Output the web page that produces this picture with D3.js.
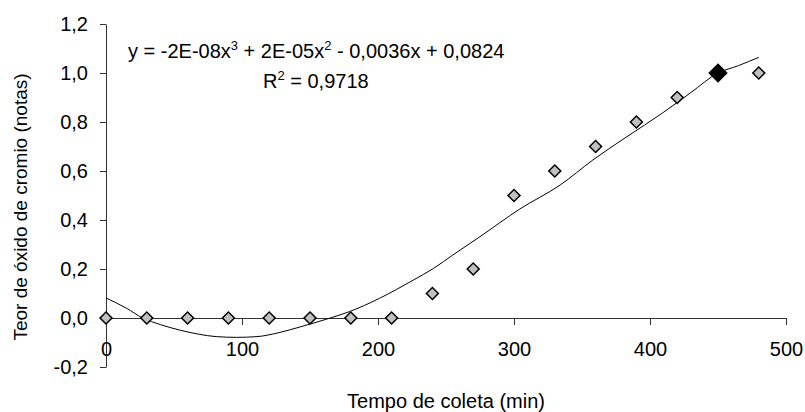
<!DOCTYPE html>
<html>
<head>
<meta charset="utf-8">
<script src="https://cdn.jsdelivr.net/npm/d3@7"></script>
<style>
  body { margin: 0; background: #fff; }
  text { font-family: "Liberation Sans", Arial, sans-serif; fill: #000; }
</style>
</head>
<body>
<div id="chart"></div>
<script>
// observed points
const tempo = [0, 30, 60, 90, 120, 150, 180, 210, 240, 270, 300, 330, 360, 390, 420, 450, 480];
const teor = [0, 0, 0, 0, 0, 0, 0, 0, 0.1, 0.2, 0.5, 0.6, 0.7, 0.8, 0.9, 1.0, 1.0];
const destaque = 450; // black marker

// trend line
const fitX = [0, 15, 27, 40, 54, 68, 81, 96, 111, 127, 143, 162, 179, 201, 226, 241, 255, 275, 304, 334, 358, 383, 409, 430, 450, 465, 480];
const fitY = [0.082, 0.04, 0, -0.027, -0.049, -0.066, -0.076, -0.079, -0.076, -0.06, -0.036, -0.005, 0.026, 0.08, 0.155, 0.203, 0.257, 0.332, 0.444, 0.543, 0.645, 0.74, 0.836, 0.92, 1.0, 1.03, 1.064];

const xTicks = [0, 100, 200, 300, 400, 500];
const yTicks = [-0.2, 0, 0.2, 0.4, 0.6, 0.8, 1.0, 1.2];

const width = 805, height = 412;
const m = { left: 106, right: 786, top: 24, bottom: 367 };
const fs = 20;

const svg = d3.select("#chart").append("svg")
  .attr("width", width)
  .attr("height", height);

const x = d3.scaleLinear().domain([0, 500]).range([m.left, m.right]);
const y = d3.scaleLinear().domain([-0.2, 1.2]).range([m.bottom, m.top]);

const fmt = d => d3.format(".1f")(d).replace(".", ",").replace("−", "-");

// y axis
const yAxis = svg.append("g")
  .attr("transform", `translate(${m.left},0)`)
  .call(d3.axisLeft(y).tickValues(yTicks).tickSize(6).tickSizeOuter(0).tickFormat(fmt));
yAxis.select(".domain").attr("stroke", "#333");
yAxis.selectAll(".tick line").attr("stroke", "#333");
yAxis.selectAll("text").attr("font-size", fs).attr("x", -18);

// x axis at y = 0
const xAxis = svg.append("g")
  .attr("transform", `translate(0,${y(0)})`)
  .call(d3.axisBottom(x).tickValues(xTicks).tickSize(7).tickSizeOuter(0));
xAxis.select(".domain").attr("stroke", "#333");
xAxis.selectAll(".tick line").attr("stroke", "#333");
xAxis.selectAll("text").attr("font-size", fs).attr("y", 38).attr("dy", 0);

// trend line
const fit = fitX.map((d, i) => [d, fitY[i]]);
svg.append("path")
  .datum(fit)
  .attr("fill", "none")
  .attr("stroke", "#000")
  .attr("stroke-width", 1)
  .attr("d", d3.line().x(d => x(d[0])).y(d => y(d[1])).curve(d3.curveMonotoneX));

// markers
const pts = tempo.map((d, i) => ({ t: d, v: teor[i] }));
svg.append("g").selectAll("path")
  .data(pts)
  .join("path")
  .attr("transform", d => `translate(${x(d.t)},${y(d.v)}) rotate(45)`)
  .attr("d", d => d.t === destaque
    ? d3.symbol(d3.symbolSquare, 150)()
    : d3.symbol(d3.symbolSquare, 72)())
  .attr("fill", d => d.t === destaque ? "#000" : "#c0c0c0")
  .attr("stroke", "#000")
  .attr("stroke-width", 1.5);

// equation
const eq = svg.append("text")
  .attr("x", 128).attr("y", 58)
  .attr("font-size", fs);
eq.append("tspan").text("y = -2E-08x");
eq.append("tspan").attr("font-size", 13).attr("dy", -8).text("3");
eq.append("tspan").attr("dy", 8).text(" + 2E-05x");
eq.append("tspan").attr("font-size", 13).attr("dy", -8).text("2");
eq.append("tspan").attr("dy", 8).text(" - 0,0036x + 0,0824");

const r2 = svg.append("text")
  .attr("x", 263).attr("y", 88)
  .attr("font-size", fs);
r2.append("tspan").text("R");
r2.append("tspan").attr("font-size", 13).attr("dy", -8).text("2");
r2.append("tspan").attr("dy", 8).text(" = 0,9718");

// axis titles
svg.append("text")
  .attr("x", (m.left + m.right) / 2).attr("y", 408)
  .attr("text-anchor", "middle")
  .attr("font-size", fs)
  .text("Tempo de coleta (min)");

svg.append("text")
  .attr("transform", "translate(27,207) rotate(-90)")
  .attr("text-anchor", "middle")
  .attr("font-size", 19)
  .text("Teor de óxido de cromio (notas)");
</script>
</body>
</html>
